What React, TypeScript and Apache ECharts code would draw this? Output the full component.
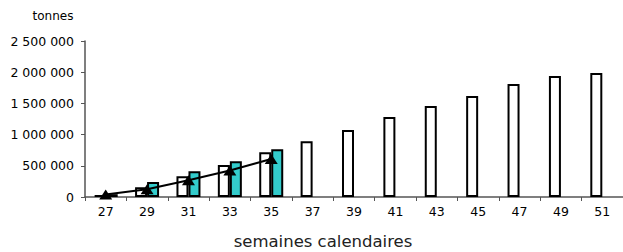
import React, { useEffect, useRef } from "react";
import * as echarts from "echarts";

const weeks = ["27", "29", "31", "33", "35", "37", "39", "41", "43", "45", "47", "49", "51"];
const previousYear = [30000, 155000, 332000, 513000, 716000, 895000, 1074000, 1282000, 1458000, 1619000, 1811000, 1939000, 1987000];
const currentYear = [45000, 240000, 412000, 572000, 764000];
const trendLine = [40000, 125000, 270000, 425000, 610000];
const yTicks = [0, 500000, 1000000, 1500000, 2000000, 2500000];

const FONT = "DejaVu Sans, Arial, sans-serif";

function fmt(v: number): string {
  return String(v).replace(/\B(?=(\d{3})+(?!\d))/g, " ");
}

export default function App() {
  const ref = useRef<HTMLDivElement>(null);
  useEffect(() => {
    if (!ref.current) return;
    const chart = echarts.init(ref.current, undefined, { renderer: "svg" });
    chart.setOption({
      animation: false,
      backgroundColor: "#ffffff",
      grid: { left: 85, top: 41, width: 542, height: 156 },
      xAxis: {
        type: "category",
        data: weeks,
        boundaryGap: true,
        axisLine: { lineStyle: { color: "#555", width: 1.5 } },
        axisTick: { show: true, length: 4, lineStyle: { color: "#555" } },
        axisLabel: { interval: 0, margin: 8, color: "#000", fontSize: 12.5, fontFamily: FONT },
        splitLine: { show: false },
      },
      yAxis: {
        type: "value",
        min: yTicks[0],
        max: yTicks[yTicks.length - 1],
        interval: 500000,
        axisLine: { show: true, lineStyle: { color: "#555", width: 1.5 } },
        axisTick: { show: true, length: 4, lineStyle: { color: "#555" } },
        axisLabel: { margin: 11, color: "#000", fontSize: 12.5, fontFamily: FONT, formatter: (v: number) => fmt(v) },
        splitLine: { show: false },
      },
      series: [
        {
          type: "bar",
          data: previousYear,
          barWidth: 12,
          barGap: "0%",
          itemStyle: { color: "#ffffff", borderColor: "#000", borderWidth: 2 },
        },
        {
          type: "bar",
          data: currentYear,
          barWidth: 12,
          barGap: "0%",
          itemStyle: { color: "#33CCCC", borderColor: "#000", borderWidth: 2 },
        },
        {
          type: "line",
          data: trendLine,
          symbol: "triangle",
          symbolSize: [13, 10],
          lineStyle: { color: "#000", width: 2 },
          itemStyle: { color: "#000" },
          z: 5,
        },
      ],
      graphic: [
        {
          type: "text",
          x: 53,
          y: 16,
          style: {
            text: "tonnes",
            fill: "#000",
            font: `12px ${FONT}`,
            textAlign: "center",
            textVerticalAlign: "middle",
          },
        },
        {
          type: "text",
          x: 323,
          y: 241,
          style: {
            text: "semaines calendaires",
            fill: "#222",
            font: `16.5px ${FONT}`,
            textAlign: "center",
            textVerticalAlign: "middle",
          },
        },
      ],
    });
    return () => chart.dispose();
  }, []);
  return <div ref={ref} style={{ width: 623, height: 252, position: "absolute", left: 0, top: 0 }} />;
}
